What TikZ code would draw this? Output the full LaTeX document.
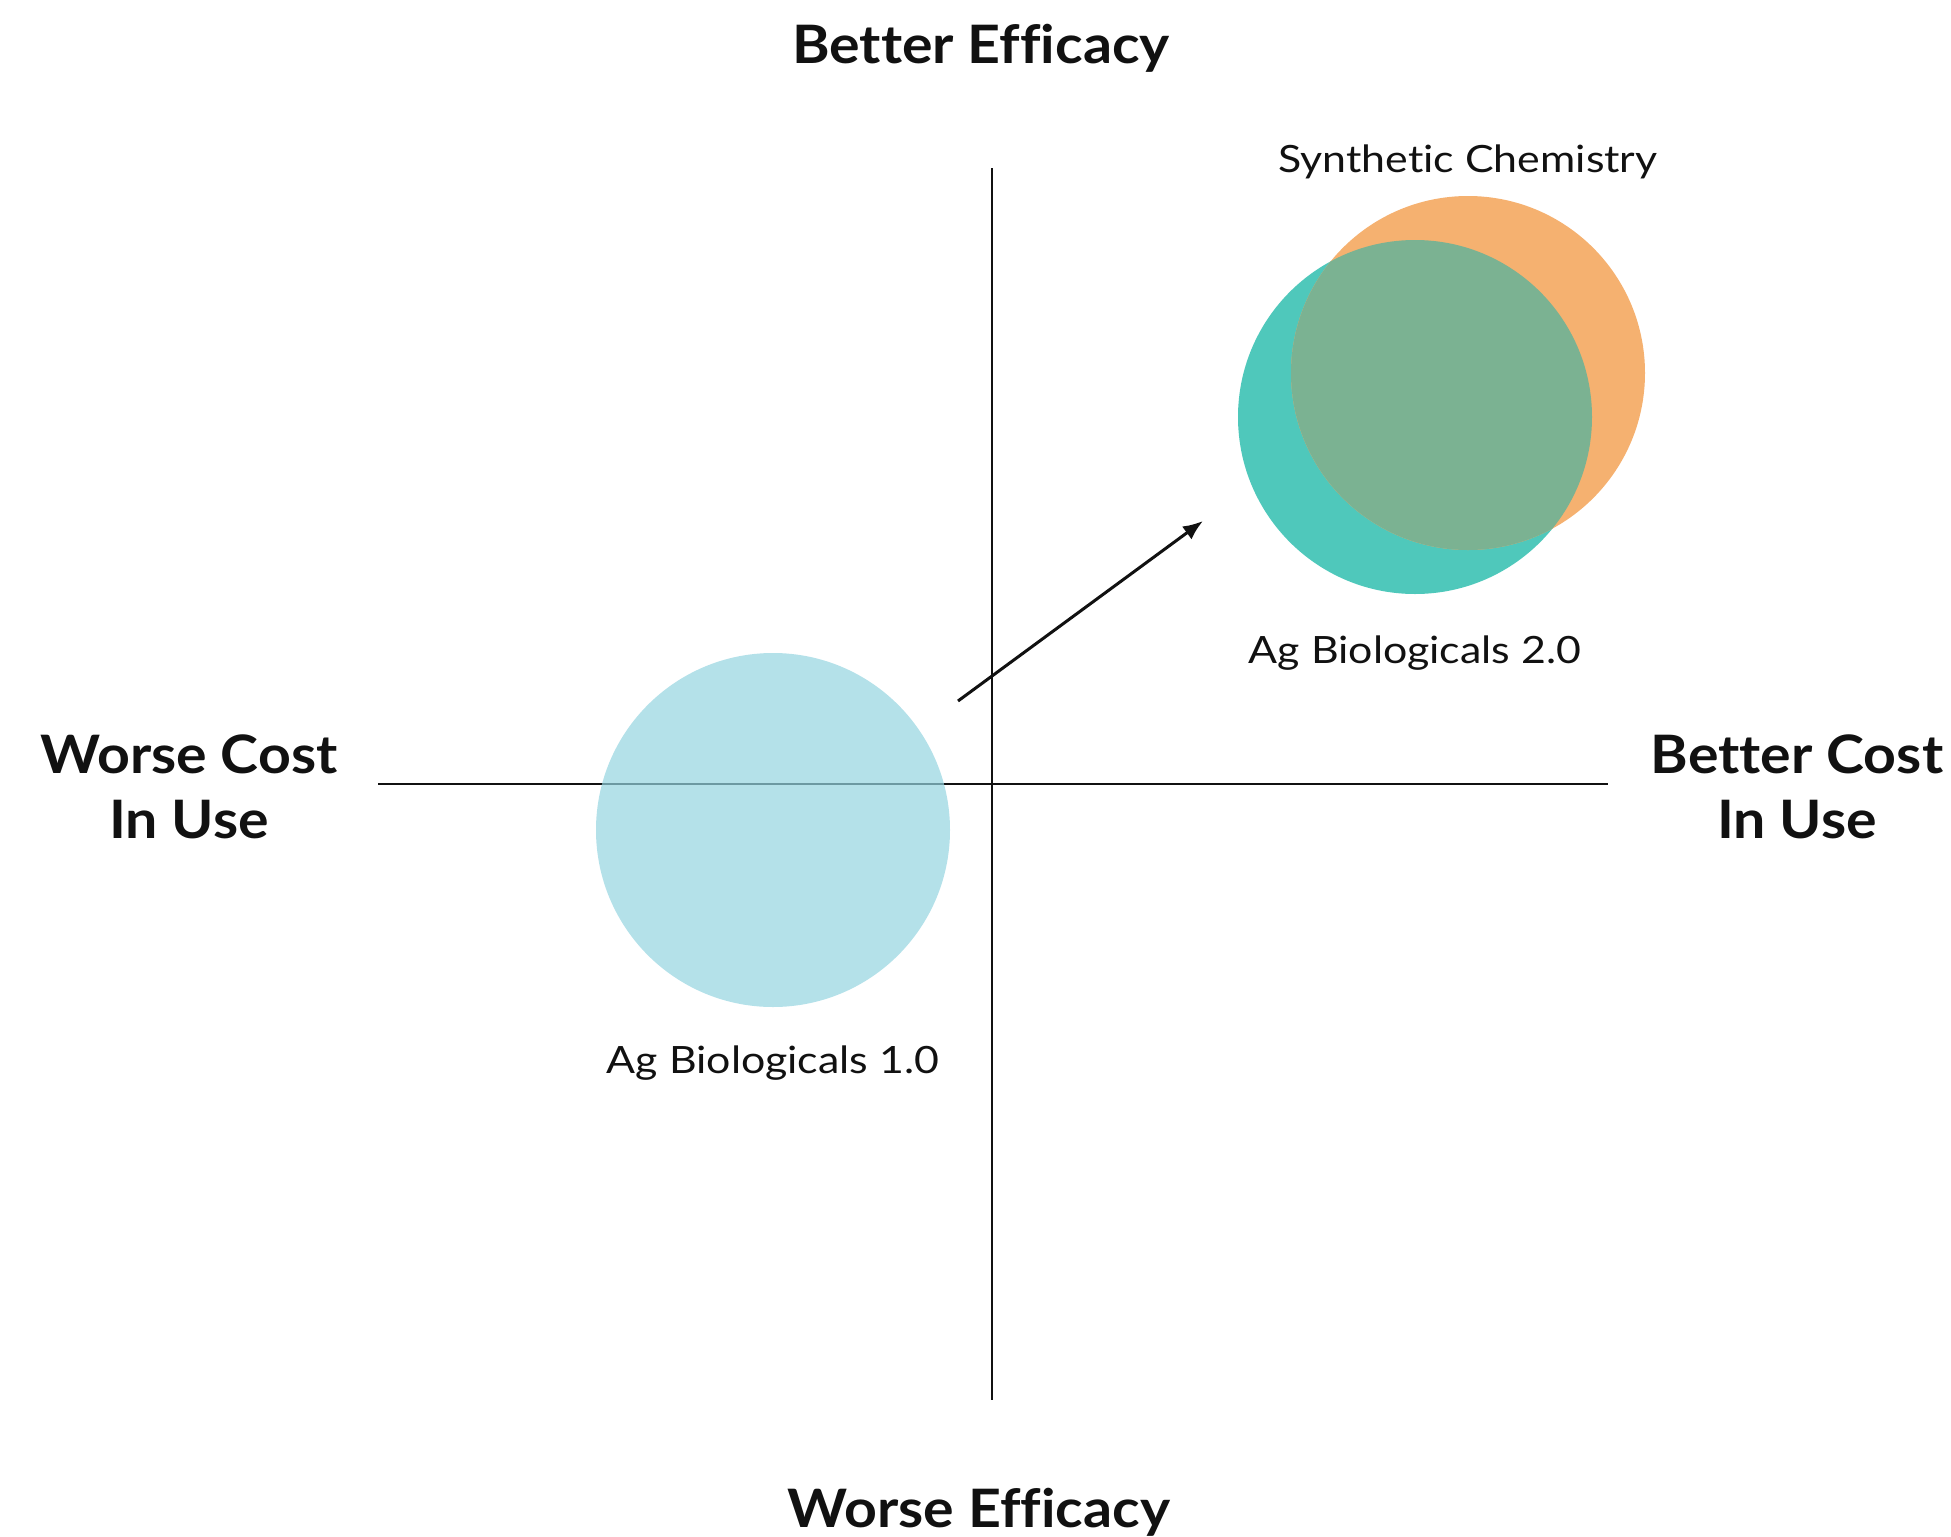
\documentclass[tikz,border=0pt]{standalone}
\usepackage{fontspec}
\setmainfont{Lato}
\newfontfamily\axisfont{Lato}[FakeStretch=1.08, Ligatures=NoCommon]
\newfontfamily\namefont{Lato}[FakeStretch=1.14, Ligatures=NoCommon]
\usetikzlibrary{arrows.meta}

\definecolor{ink}{HTML}{111111}
\definecolor{bio-one}{HTML}{94D4E0}
\definecolor{bio-two}{HTML}{4FC8BB}
\definecolor{synthetic}{HTML}{F5B170}
\definecolor{overlap}{HTML}{7BB292}
\tikzstyle{axis-label}=[anchor=base, align=center, text=ink, font=\axisfont\bfseries\fontsize{26.5}{32.5}\selectfont]
\tikzstyle{group-label}=[anchor=base, text=ink, font=\namefont\fontsize{18.8}{22}\selectfont]
\tikzstyle{axis-line}=[draw=ink, line width=1pt]

\begin{document}
\begin{tikzpicture}[x=0.5pt, y=-0.5pt]
      \useasboundingbox (0,0) rectangle (1951,1537);

      % quadrant axes
      \coordinate (axis-left)   at (378, 784);
      \coordinate (axis-right)  at (1608, 784);
      \coordinate (axis-top)    at (992, 168);
      \coordinate (axis-bottom) at (992, 1400);
      \draw [axis-line] (axis-left) -- (axis-right);
      \draw [axis-line] (axis-top) -- (axis-bottom);

      % circles
      \coordinate (bio-one) at (773, 830);
      \coordinate (bio-two) at (1415, 417);
      \coordinate (synthetic) at (1468, 373);
      \fill [bio-one, fill opacity=0.7] (bio-one) circle [radius=88.5pt];
      \fill [bio-two] (bio-two) circle [radius=88.5pt];
      \fill [synthetic] (synthetic) circle [radius=88.5pt];
      \begin{scope}
        \clip (bio-two) circle [radius=88.5pt];
        \fill [overlap] (synthetic) circle [radius=88.5pt];
      \end{scope}

      % shift from 1.0 to 2.0
      \coordinate (shift-from) at (958, 701);
      \coordinate (shift-to)   at (1203, 521);
      \draw [ink, line width=1.5pt, -{Latex[length=10pt, width=8pt]}] (shift-from) -- (shift-to);

      % labels (base of a two-line label is its last line)
      \node (label-top)    at (981, 63)   [axis-label] {Better Efficacy};
      \node (label-bottom) at (979, 1527) [axis-label] {Worse Efficacy};
      \node (label-left)   at (189, 838)  [axis-label] {Worse Cost\\In Use};
      \node (label-right)  at (1797, 838) [axis-label] {Better Cost\\In Use};

      \node (name-synthetic) at (1468, 172)  [group-label] {Synthetic Chemistry};
      \node (name-bio-two)   at (1415, 663)  [group-label] {Ag Biologicals 2.0};
      \node (name-bio-one)   at (773, 1073)  [group-label] {Ag Biologicals 1.0};
    \end{tikzpicture}
\end{document}
